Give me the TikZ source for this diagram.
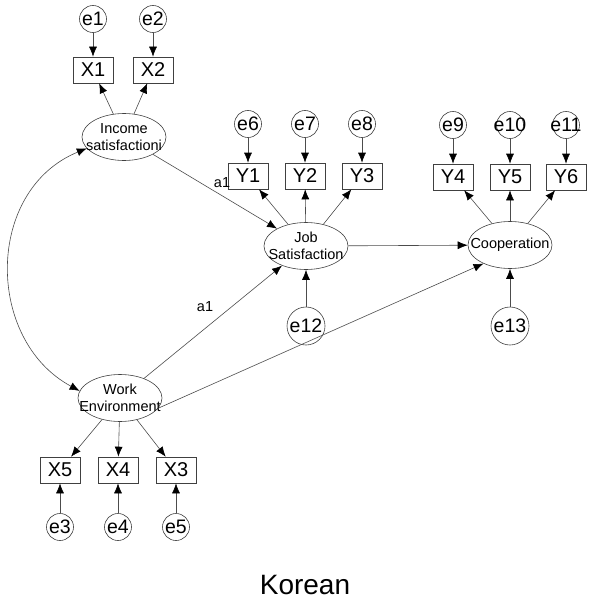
\documentclass[tikz,border=0pt]{standalone}
\usepackage{fontspec}
\setmainfont{Liberation Sans}
\usetikzlibrary{shapes.geometric,arrows.meta}
\begin{document}
\begin{tikzpicture}[x=1pt,y=-1pt,
  ln/.style={draw=black!70,line width=0.6pt},
  arr/.style={ln,-{Latex[length=10pt,width=8pt,color=black]}},
  darr/.style={ln,{Latex[length=10pt,width=8pt,color=black]}-{Latex[length=10pt,width=8pt,color=black]}},
  obs/.style={rectangle,draw=black!75,line width=0.6pt,minimum width=40pt,minimum height=26pt,inner sep=0pt,font=\fontsize{20}{21}\selectfont},
  err/.style={circle,draw=black!75,line width=0.6pt,minimum size=27pt,inner sep=0pt,label={[font=\fontsize{19.5}{20}\selectfont]center:#1}},
  errb/.style={circle,draw=black!75,line width=0.6pt,minimum size=38pt,inner sep=0pt,label={[font=\fontsize{19.5}{20}\selectfont]center:#1}},
  lat/.style={ellipse,draw=black!75,line width=0.6pt,minimum width=84pt,minimum height=47pt,inner sep=0pt},
  lattext/.style={font=\fontsize{14.5}{17}\selectfont,align=center,inner sep=0pt},
  lab/.style={font=\fontsize{14.5}{15}\selectfont,inner sep=0pt}
]
\useasboundingbox (0,0) rectangle (590,602);
% error terms
\node[err=e1] (e1) at (93,19) {};
\node[err=e2] (e2) at (153,19) {};
\node[err=e6] (e6) at (248,124) {};
\node[err=e7] (e7) at (305,124) {};
\node[err=e8] (e8) at (362,124) {};
\node[err=e9] (e9) at (453,125) {};
\node[err=e10] (e10) at (510,125) {};
\node[err=e11] (e11) at (566,125) {};
\node[err=e3] (e3) at (60,527) {};
\node[err=e4] (e4) at (118,527) {};
\node[err=e5] (e5) at (176,527) {};
\node[errb=e12] (e12) at (306,326) {};
\node[errb=e13] (e13) at (510,326) {};
% observed
\node[obs] (X1) at (93,70) {X1};
\node[obs] (X2) at (153,70) {X2};
\node[obs] (Y1) at (248,176) {Y1};
\node[obs] (Y2) at (305,176) {Y2};
\node[obs] (Y3) at (362,176) {Y3};
\node[obs] (Y4) at (453,177) {Y4};
\node[obs] (Y5) at (510,177) {Y5};
\node[obs] (Y6) at (566,177) {Y6};
\node[obs] (X5) at (60,470) {X5};
\node[obs] (X4) at (118,470) {X4};
\node[obs] (X3) at (176,470) {X3};
% latent
\node[lat] (inc) at (124,137) {};
\node[lattext] (inct) at (inc) {Income\\satisfactioni};
\node[lat] (job) at (306,246) {};
\node[lattext] (jobt) at (job) {Job\\Satisfaction};
\node[lat] (coop) at (510,245) {};
\node[lattext] (coopt) at (coop) {Cooperation};
\node[lat] (we) at (120,398) {};
\node[lattext] (wet) at (we) {Work\\Environment};
% error arrows
\foreach \e/\o in {e1/X1,e2/X2,e6/Y1,e7/Y2,e8/Y3,e9/Y4,e10/Y5,e11/Y6,e3/X5,e4/X4,e5/X3}
  \draw[arr] (\e) -- (\o);
\draw[arr] (e12) -- (job);
\draw[arr] (e13) -- (coop);
% loadings
\foreach \o in {X1,X2} \draw[arr] (inc) -- (\o);
\foreach \o in {Y1,Y2,Y3} \draw[arr] (job) -- (\o);
\foreach \o in {Y4,Y5,Y6} \draw[arr] (coop) -- (\o);
\foreach \o in {X5,X4,X3} \draw[arr] (we) -- (\o);
% structural
\draw[arr] (inc) -- (job);
\draw[arr] (we) -- (job);
\draw[arr] (job) -- (coop);
\draw[arr] (we.-15) -- (coop.215);
\draw[darr] (inc.197) .. controls (-15,190) and (-15,340) .. (we.170);
% labels
\node[lab] (a1a) at (222,183) {a1};
\node[lab] (a1b) at (205,307) {a1};
\node[font=\fontsize{28}{30}\selectfont,inner sep=0pt] (title) at (305,585) {Korean};
\end{tikzpicture}
\end{document}
